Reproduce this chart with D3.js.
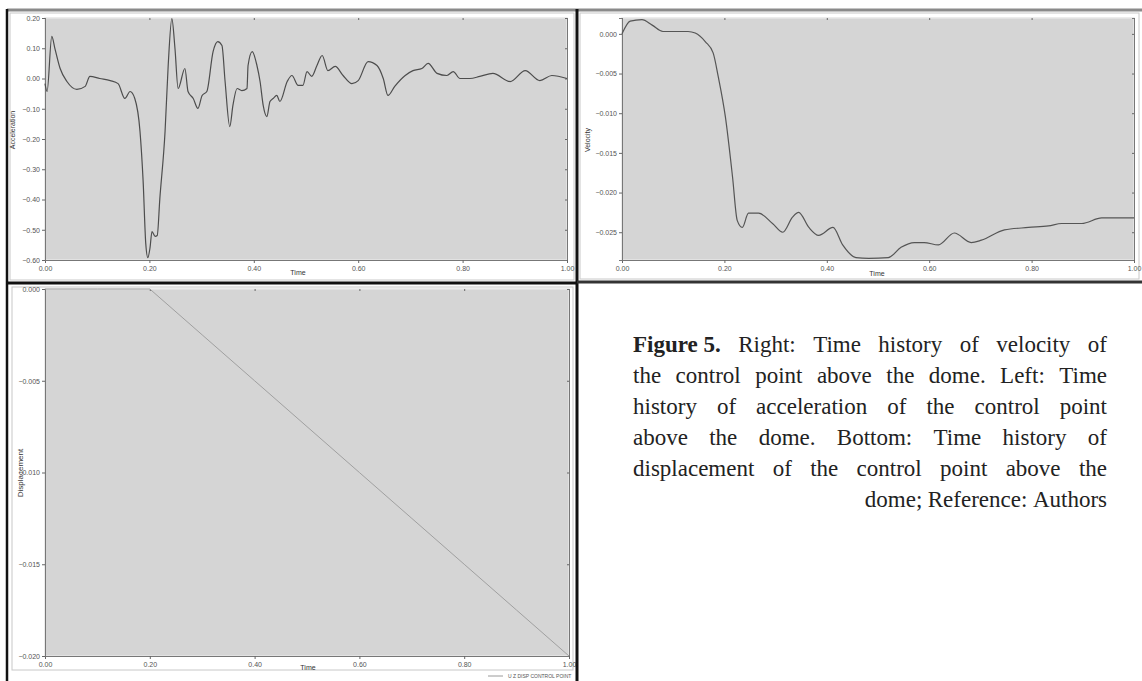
<!DOCTYPE html>
<html>
<head>
<meta charset="utf-8">
<script src="https://cdn.jsdelivr.net/npm/d3@7"></script>
<style>
  body { margin: 0; background: #fff; }
  svg { display: block; }
  .tick text { font-family: "Liberation Sans", Arial, sans-serif; font-size: 7px; fill: #555; }
  .tick line { stroke: #666; }
  .domain { stroke: #777; }
</style>
</head>
<body>
<svg id="fig" width="1142" height="681"></svg>
<script>
// acceleration (top left)
let accTime = [0, 0.004, 0.013, 0.019, 0.029, 0.042, 0.061, 0.077, 0.086, 0.105, 0.125, 0.140, 0.153, 0.163, 0.172,
  0.182, 0.188, 0.193, 0.197, 0.201, 0.205, 0.211, 0.215, 0.220, 0.230, 0.236, 0.243, 0.249, 0.255, 0.268, 0.274,
  0.284, 0.293, 0.301, 0.310, 0.322, 0.331, 0.339, 0.345, 0.354, 0.360, 0.368, 0.377, 0.387, 0.389, 0.397, 0.406,
  0.412, 0.418, 0.425, 0.431, 0.437, 0.444, 0.450, 0.464, 0.473, 0.485, 0.494, 0.502, 0.511, 0.521, 0.531, 0.542,
  0.556, 0.571, 0.588, 0.600, 0.619, 0.636, 0.648, 0.657, 0.670, 0.690, 0.705, 0.722, 0.734, 0.751, 0.770, 0.782,
  0.795, 0.814, 0.833, 0.858, 0.891, 0.920, 0.948, 0.971, 1.000];
let accValue = [-0.017, -0.043, 0.139, 0.099, 0.033, -0.010, -0.036, -0.026, 0.007, 0.000, -0.007, -0.017, -0.066, -0.043, -0.066,
  -0.175, -0.340, -0.545, -0.592, -0.562, -0.506, -0.522, -0.519, -0.397, -0.175, 0.043, 0.198, 0.099, -0.033, 0.033, -0.043,
  -0.066, -0.099, -0.056, -0.043, 0.089, 0.122, 0.109, -0.010, -0.159, -0.089, -0.033, -0.040, -0.033, 0.043, 0.089, 0.043,
  -0.010, -0.089, -0.126, -0.076, -0.066, -0.056, -0.076, -0.010, 0.010, -0.023, -0.023, 0.023, 0.007, 0.043, 0.076, 0.026,
  0.040, 0.010, -0.017, -0.007, 0.056, 0.043, 0.000, -0.056, -0.026, 0.010, 0.026, 0.033, 0.050, 0.017, 0.010, 0.023,
  0.000, 0.000, 0.007, 0.017, -0.010, 0.026, -0.007, 0.010, 0.000];

// velocity (top right)
let velTime = [0, 0.016, 0.039, 0.059, 0.080, 0.129, 0.143, 0.163, 0.178, 0.188, 0.202, 0.216, 0.225, 0.235, 0.247,
  0.267, 0.294, 0.314, 0.333, 0.345, 0.365, 0.384, 0.412, 0.431, 0.457, 0.482, 0.520, 0.545, 0.571, 0.590, 0.618,
  0.649, 0.682, 0.702, 0.747, 0.794, 0.833, 0.859, 0.898, 0.937, 1.000];
let velValue = [0.0000, 0.0016, 0.0018, 0.0011, 0.0003, 0.0003, 0.0001, -0.0010, -0.0024, -0.0054, -0.0105, -0.0181, -0.0235, -0.0244, -0.0226,
  -0.0226, -0.0239, -0.0250, -0.0231, -0.0225, -0.0244, -0.0254, -0.0244, -0.0266, -0.0282, -0.0283, -0.0282, -0.0269, -0.0263, -0.0263, -0.0266,
  -0.0251, -0.0263, -0.0260, -0.0247, -0.0244, -0.0242, -0.0239, -0.0239, -0.0232, -0.0232];

// displacement (bottom)
let dispTime = [0, 0.1, 0.2, 0.3, 0.4, 0.5, 0.6, 0.7, 0.8, 0.9, 1.0];
let dispValue = [0, 0, 0, -0.0025, -0.0050, -0.0075, -0.0100, -0.0125, -0.0150, -0.0175, -0.0200];

let timeTicks = [0, 0.2, 0.4, 0.6, 0.8, 1.0];
let accTicks = [0.2, 0.1, 0, -0.1, -0.2, -0.3, -0.4, -0.5, -0.6];
let velTicks = [0, -0.005, -0.010, -0.015, -0.020, -0.025];
let dispTicks = [0, -0.005, -0.010, -0.015, -0.020];

let captionLines = [
  [["Figure 5.", true], ["Right:"], ["Time"], ["history"], ["of"], ["velocity"], ["of"]],
  [["the"], ["control"], ["point"], ["above"], ["the"], ["dome."], ["Left:"], ["Time"]],
  [["history"], ["of"], ["acceleration"], ["of"], ["the"], ["control"], ["point"]],
  [["above"], ["the"], ["dome."], ["Bottom:"], ["Time"], ["history"], ["of"]],
  [["displacement"], ["of"], ["the"], ["control"], ["point"], ["above"], ["the"]],
  [["dome;"], ["Reference:"], ["Authors"]]
];

let svg = d3.select("#fig");

// panel frames
let frames = svg.append("g");
frames.append("rect").attr("x", 10).attr("y", 13).attr("width", 564).attr("height", 267)
  .attr("fill", "none").attr("stroke", "#c8c8c8").attr("stroke-width", 1);
frames.append("rect").attr("x", 580).attr("y", 13).attr("width", 559).attr("height", 266)
  .attr("fill", "none").attr("stroke", "#c8c8c8").attr("stroke-width", 1);
frames.append("rect").attr("x", 12).attr("y", 287).attr("width", 561).attr("height", 383)
  .attr("fill", "none").attr("stroke", "#c8c8c8").attr("stroke-width", 1);

function drawPanel(cfg) {
  let x = d3.scaleLinear().domain([0, 1]).range([cfg.left, cfg.right]);
  let y = d3.scaleLinear().domain(cfg.yDomain).range([cfg.bottom, cfg.top]);
  let g = svg.append("g");

  g.append("rect")
    .attr("x", cfg.left).attr("y", cfg.top)
    .attr("width", cfg.right - cfg.left).attr("height", cfg.bottom - cfg.top)
    .attr("fill", "#d5d5d5").attr("stroke", "#e6e6e6").attr("stroke-width", 1.5);

  // faint ticks on the top and right edges
  g.append("g").attr("transform", "translate(0," + cfg.top + ")")
    .call(d3.axisTop(x).tickValues(timeTicks).tickSize(-2).tickFormat(""))
    .call(a => a.select(".domain").remove())
    .selectAll("line").attr("stroke", "#aaa");
  g.append("g").attr("transform", "translate(" + cfg.right + ",0)")
    .call(d3.axisRight(y).tickValues(cfg.yTicks).tickSize(-2).tickFormat(""))
    .call(a => a.select(".domain").attr("stroke", "#aaa"))
    .selectAll("line").attr("stroke", "#999");

  g.append("g").attr("transform", "translate(0," + cfg.bottom + ")")
    .call(d3.axisBottom(x).tickValues(timeTicks).tickSize(3).tickPadding(3).tickFormat(d3.format(".2f")));
  g.append("g").attr("transform", "translate(" + cfg.left + ",0)")
    .call(d3.axisLeft(y).tickValues(cfg.yTicks).tickSize(3).tickPadding(2).tickFormat(d3.format(cfg.fmt)));

  let line = d3.line()
    .x((d, i) => x(cfg.t[i]))
    .y(d => y(d))
    .curve(cfg.curve);
  g.append("path").datum(cfg.v)
    .attr("d", line)
    .attr("fill", "none")
    .attr("stroke", cfg.color)
    .attr("stroke-width", cfg.width);

  g.append("text")
    .attr("x", cfg.xLabel[0]).attr("y", cfg.xLabel[1])
    .attr("text-anchor", "middle")
    .style("font-family", "Liberation Sans, Arial, sans-serif").style("font-size", "7px").attr("fill", "#333")
    .text("Time");
  g.append("text")
    .attr("transform", "translate(" + cfg.yLabel[0] + "," + cfg.yLabel[1] + ") rotate(-90)")
    .attr("text-anchor", "middle")
    .style("font-family", "Liberation Sans, Arial, sans-serif").style("font-size", cfg.yLabelSize).attr("fill", "#333")
    .text(cfg.name);
}

drawPanel({ left: 45, right: 567, top: 18, bottom: 260, yDomain: [-0.6, 0.2], yTicks: accTicks, fmt: ".2f",
  t: accTime, v: accValue, color: "#4d4d4d", width: 1.2, name: "Acceleration", curve: d3.curveMonotoneX,
  xLabel: [298, 275], yLabel: [15, 130], yLabelSize: "7px" });
drawPanel({ left: 622, right: 1134, top: 18, bottom: 260, yDomain: [-0.0285, 0.002], yTicks: velTicks, fmt: ".3f",
  t: velTime, v: velValue, color: "#555", width: 1.2, name: "Velocity", curve: d3.curveMonotoneX,
  xLabel: [877, 276], yLabel: [590, 140], yLabelSize: "7px" });
drawPanel({ left: 45, right: 569, top: 289, bottom: 656, yDomain: [-0.02, 0], yTicks: dispTicks, fmt: ".3f",
  t: dispTime, v: dispValue, color: "#a0a0a0", width: 1, name: "Displacement", curve: d3.curveLinear,
  xLabel: [308, 670], yLabel: [23, 473], yLabelSize: "8px" });

// tiny legend under the bottom plot
svg.append("line").attr("x1", 488).attr("x2", 503).attr("y1", 676).attr("y2", 676)
  .attr("stroke", "#9a9a9a").attr("stroke-width", 1);
svg.append("text").attr("x", 508).attr("y", 678)
  .style("font-family", "Liberation Sans, Arial, sans-serif").style("font-size", "5px").attr("fill", "#555")
  .text("U Z  DISP  CONTROL POINT");

// heavy separators
frames = svg.append("g");
frames.append("line").attr("x1", 7).attr("x2", 1142).attr("y1", 10).attr("y2", 10).attr("stroke", "#8a8a8a").attr("stroke-width", 3);
frames.append("line").attr("x1", 7).attr("x2", 7).attr("y1", 9).attr("y2", 681).attr("stroke", "#111").attr("stroke-width", 2.5);
frames.append("line").attr("x1", 577).attr("x2", 577).attr("y1", 9).attr("y2", 681).attr("stroke", "#111").attr("stroke-width", 3);
frames.append("line").attr("x1", 7).attr("x2", 577).attr("y1", 283).attr("y2", 283).attr("stroke", "#111").attr("stroke-width", 3);
frames.append("line").attr("x1", 577).attr("x2", 1142).attr("y1", 282).attr("y2", 282).attr("stroke", "#333").attr("stroke-width", 3);

// caption, justified word by word
let cap = svg.append("g").style("font-family", "Liberation Serif, Times New Roman, serif").style("font-size", "23px").attr("fill", "#222");
let capLeft = 633, capRight = 1107, capTop = 352, capStep = 31;
captionLines.forEach((words, li) => {
  let y = capTop + li * capStep;
  let nodes = words.map(w => cap.append("text").attr("y", y)
    .style("font-weight", w[1] ? "bold" : "normal").text(w[0]));
  let widths = nodes.map(n => n.node().getComputedTextLength());
  let total = d3.sum(widths);
  let last = li === captionLines.length - 1;
  let gap = last ? 5.5 : (capRight - capLeft - total) / (words.length - 1);
  let xPos = last ? capRight - total - gap * (words.length - 1) : capLeft;
  nodes.forEach((n, i) => { n.attr("x", xPos); xPos += widths[i] + gap; });
});
</script>
</body>
</html>
